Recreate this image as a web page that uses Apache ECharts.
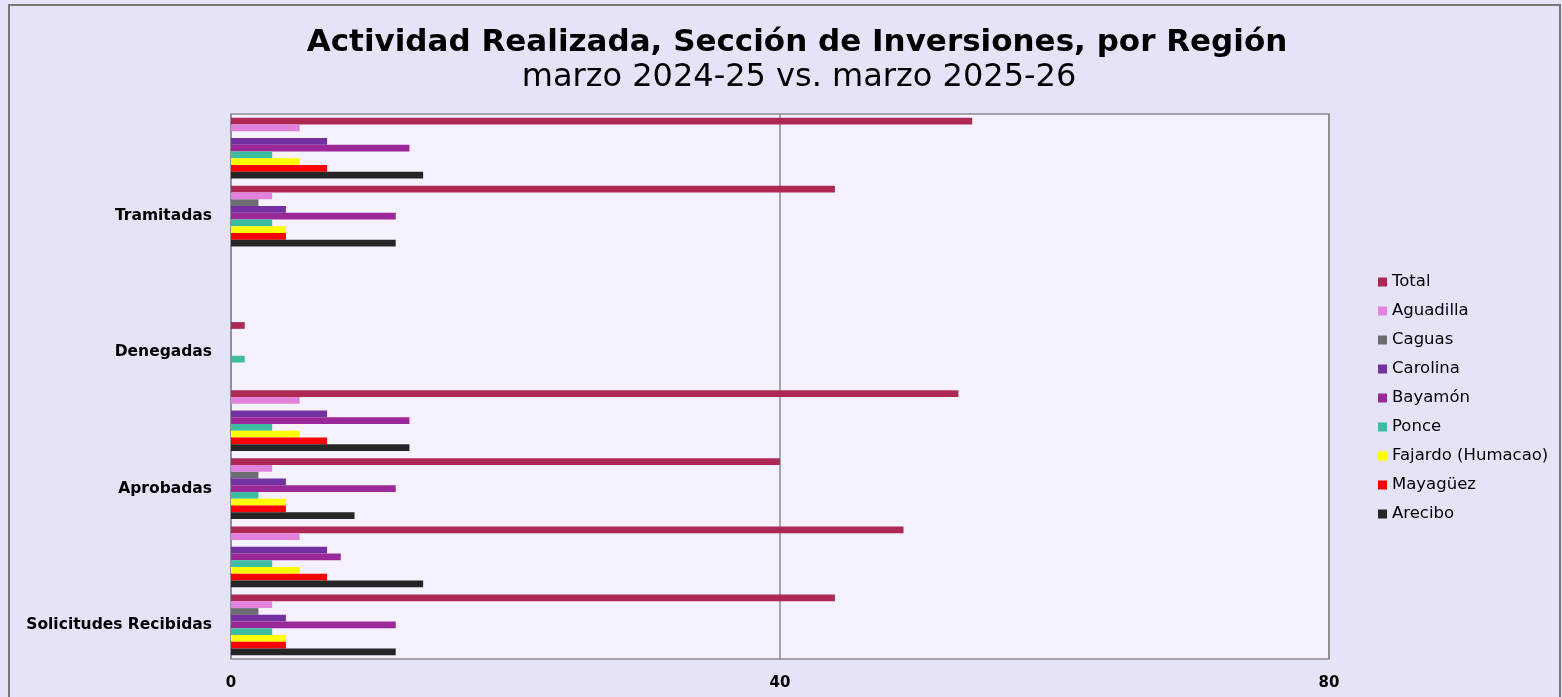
<!DOCTYPE html>
<html>
<head>
<meta charset="utf-8">
<script src="https://cdn.jsdelivr.net/npm/echarts@6/dist/echarts.min.js"></script>
<style>
    html, body { margin: 0; padding: 0; background: #E5E3F8; }
    #chart { width: 1562px; height: 697px; }
</style>
</head>
<body>
<div id="chart"></div>
<script>
// categorias (de abajo hacia arriba) y periodos
var categories = ['Solicitudes Recibidas', 'Aprobadas', 'Denegadas', 'Tramitadas'];
var periods = ['marzo 2024-25', 'marzo 2025-26'];

// series, en el orden de la leyenda
var seriesNames = ['Total', 'Aguadilla', 'Caguas', 'Carolina', 'Bayamón', 'Ponce', 'Fajardo (Humacao)', 'Mayagüez', 'Arecibo'];
var seriesColors = ['#AD2852', '#E182DD', '#6C6C73', '#7230A0', '#9A2898', '#3DBDA0', '#FFFF00', '#FF0000', '#262626'];

// marzo 2024-25, valores por categoria
var values2024 = {
    'Total': [44, 40, 1, 44],
    'Aguadilla': [3, 3, 0, 3],
    'Caguas': [2, 2, 0, 2],
    'Carolina': [4, 4, 0, 4],
    'Bayamón': [12, 12, 0, 12],
    'Ponce': [3, 2, 1, 3],
    'Fajardo (Humacao)': [4, 4, 0, 4],
    'Mayagüez': [4, 4, 0, 4],
    'Arecibo': [12, 9, 0, 12]
};
// marzo 2025-26, valores por categoria
var values2025 = {
    'Total': [49, 53, 0, 54],
    'Aguadilla': [5, 5, 0, 5],
    'Caguas': [0, 0, 0, 0],
    'Carolina': [7, 7, 0, 7],
    'Bayamón': [8, 13, 0, 13],
    'Ponce': [3, 3, 0, 3],
    'Fajardo (Humacao)': [5, 5, 0, 5],
    'Mayagüez': [7, 7, 0, 7],
    'Arecibo': [14, 13, 0, 14]
};
var xTicks = [0, 40, 80];

var myChart = echarts.init(document.getElementById('chart'));
var font = 'DejaVu Sans';

// eje y: dos filas por categoria (una por periodo)
var yData = [];
for (var i = 0; i < categories.length; i++) {
    for (var p = 0; p < periods.length; p++) {
        yData.push(categories[i] + '|' + p);
    }
}

var series = [];
for (var s = 0; s < seriesNames.length; s++) {
    var name = seriesNames[s];
    var data = [];
    for (var i = 0; i < categories.length; i++) {
        data.push(values2024[name][i]);
        data.push(values2025[name][i]);
    }
    series.push({
        name: name,
        type: 'bar',
        data: data,
        barGap: '0%',
        barCategoryGap: '11%',
        itemStyle: { color: seriesColors[s] }
    });
}

var option = {
    backgroundColor: '#E5E3F8',
    textStyle: { fontFamily: font },
    title: [{
        text: 'Actividad Realizada, Sección de Inversiones, por Región',
        left: 792,
        top: 22,
        textAlign: 'center',
        textStyle: { fontSize: 31, fontWeight: 'bold', color: '#000', fontFamily: font }
    }, {
        text: 'marzo 2024-25 vs. marzo 2025-26',
        left: 794,
        top: 57,
        textAlign: 'center',
        textStyle: { fontSize: 32, fontWeight: 'normal', color: '#000', fontFamily: font }
    }],
    legend: {
        data: seriesNames,
        orient: 'vertical',
        left: 1373,
        top: 268,
        icon: 'rect',
        itemWidth: 9,
        itemHeight: 9,
        itemGap: 11,
        textStyle: { fontSize: 16.5, color: '#000', lineHeight: 18, fontFamily: font }
    },
    grid: {
        left: 231,
        right: 233,
        top: 114,
        bottom: 38,
        show: true,
        backgroundColor: '#F6F1FE',
        borderColor: '#8C8C8C',
        borderWidth: 1.5
    },
    xAxis: {
        type: 'value',
        min: xTicks[0],
        max: xTicks[xTicks.length - 1],
        interval: xTicks[1] - xTicks[0],
        axisLine: { show: false },
        axisTick: { show: false },
        splitLine: { show: true, lineStyle: { color: '#8A8A8A', width: 1.5 } },
        axisLabel: { margin: 17, fontSize: 15, fontWeight: 'bold', color: '#000' }
    },
    yAxis: {
        type: 'category',
        data: yData,
        axisLine: { show: false },
        axisTick: { show: false },
        axisLabel: {
            margin: 19,
            fontSize: 15.5,
            fontWeight: 'bold',
            color: '#000',
            interval: 0,
            formatter: function (v) {
                var parts = v.split('|');
                return parts[1] === '0' ? parts[0] : '';
            }
        }
    },
    graphic: [{
        type: 'rect',
        shape: { x: 9, y: 5, width: 1551, height: 720 },
        style: { fill: 'none', stroke: '#777', lineWidth: 2 },
        silent: true
    }],
    series: series
};

myChart.setOption(option);
</script>
</body>
</html>
